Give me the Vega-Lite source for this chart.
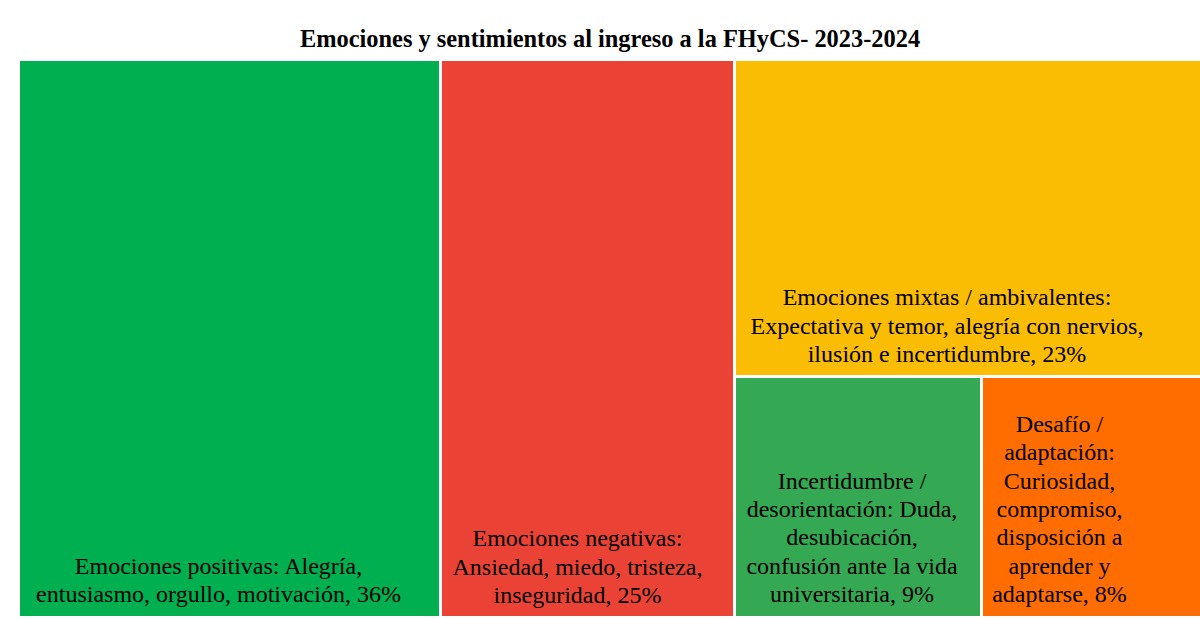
{
  "$schema": "https://vega.github.io/schema/vega-lite/v6.json",
  "padding": {"left": 20, "top": 26, "right": 0, "bottom": 0},
  "background": "white",
  "title": {
    "text": "Emociones y sentimientos al ingreso a la FHyCS-  2023-2024",
    "anchor": "middle",
    "font": "Liberation Serif",
    "fontSize": 24.4,
    "fontWeight": "bold",
    "color": "black",
    "offset": 9
  },
  "data": {
    "values": [
      {"cat": "positivas", "value": 36, "label": ["Emociones positivas:  Alegría,", "entusiasmo, orgullo, motivación, 36%"]},
      {"cat": "negativas", "value": 25, "label": ["Emociones negativas:", "Ansiedad, miedo, tristeza,", "inseguridad, 25%"]},
      {"cat": "mixtas", "value": 23, "label": ["Emociones mixtas / ambivalentes:", "Expectativa y temor, alegría con nervios,", "ilusión e incertidumbre, 23%"]},
      {"cat": "incertidumbre", "value": 9, "label": ["Incertidumbre /", "desorientación: Duda,", "desubicación,", "confusión ante la vida", "universitaria, 9%"]},
      {"cat": "desafio", "value": 8, "label": ["Desafío /", "adaptación:", "Curiosidad,", "compromiso,", "disposición a", "aprender y", "adaptarse, 8%"]}
    ]
  },
  "spacing": 3,
  "bounds": "flush",
  "hconcat": [
    {
      "width": 419, "height": 555,
      "transform": [{"filter": "datum.cat === 'positivas'"}],
      "layer": [
        {"mark": {"type": "rect", "color": "#00AF50"}, "encoding": {}},
        {"mark": {"type": "text", "font": "Liberation Serif", "fontSize": 24, "lineHeight": 28.3, "align": "center", "baseline": "alphabetic", "dx": -11, "dy": -42.3, "color": "black"},
         "encoding": {"text": {"field": "label"}, "y": {"value": "height"}}}
      ]
    },
    {
      "width": 291, "height": 555,
      "transform": [{"filter": "datum.cat === 'negativas'"}],
      "layer": [
        {"mark": {"type": "rect", "color": "#EA4335"}, "encoding": {}},
        {"mark": {"type": "text", "font": "Liberation Serif", "fontSize": 24, "lineHeight": 28.3, "align": "center", "baseline": "alphabetic", "dx": -10, "dy": -69.6, "color": "black"},
         "encoding": {"text": {"field": "label"}, "y": {"value": "height"}}}
      ]
    },
    {
      "spacing": 3,
      "bounds": "flush",
      "vconcat": [
        {
          "width": 464, "height": 314,
          "transform": [{"filter": "datum.cat === 'mixtas'"}],
          "layer": [
            {"mark": {"type": "rect", "color": "#FBBC04"}, "encoding": {}},
            {"mark": {"type": "text", "font": "Liberation Serif", "fontSize": 24, "lineHeight": 28.3, "align": "center", "baseline": "alphabetic", "dx": -21, "dy": -69.6, "color": "black"},
             "encoding": {"text": {"field": "label"}, "y": {"value": "height"}}}
          ]
        },
        {
          "spacing": 3,
          "bounds": "flush",
          "hconcat": [
            {
              "width": 244, "height": 238,
              "transform": [{"filter": "datum.cat === 'incertidumbre'"}],
              "layer": [
                {"mark": {"type": "rect", "color": "#34A853"}, "encoding": {}},
                {"mark": {"type": "text", "font": "Liberation Serif", "fontSize": 24, "lineHeight": 28.3, "align": "center", "baseline": "alphabetic", "dx": -6, "dy": -127.2, "color": "black"},
                 "encoding": {"text": {"field": "label"}, "y": {"value": "height"}}}
              ]
            },
            {
              "width": 217, "height": 238,
              "transform": [{"filter": "datum.cat === 'desafio'"}],
              "layer": [
                {"mark": {"type": "rect", "color": "#FF6D01"}, "encoding": {}},
                {"mark": {"type": "text", "font": "Liberation Serif", "fontSize": 24, "lineHeight": 28.3, "align": "center", "baseline": "alphabetic", "dx": -32, "dy": -183.8, "color": "black"},
                 "encoding": {"text": {"field": "label"}, "y": {"value": "height"}}}
              ]
            }
          ]
        }
      ]
    }
  ],
  "config": {"view": {"stroke": null}}
}
